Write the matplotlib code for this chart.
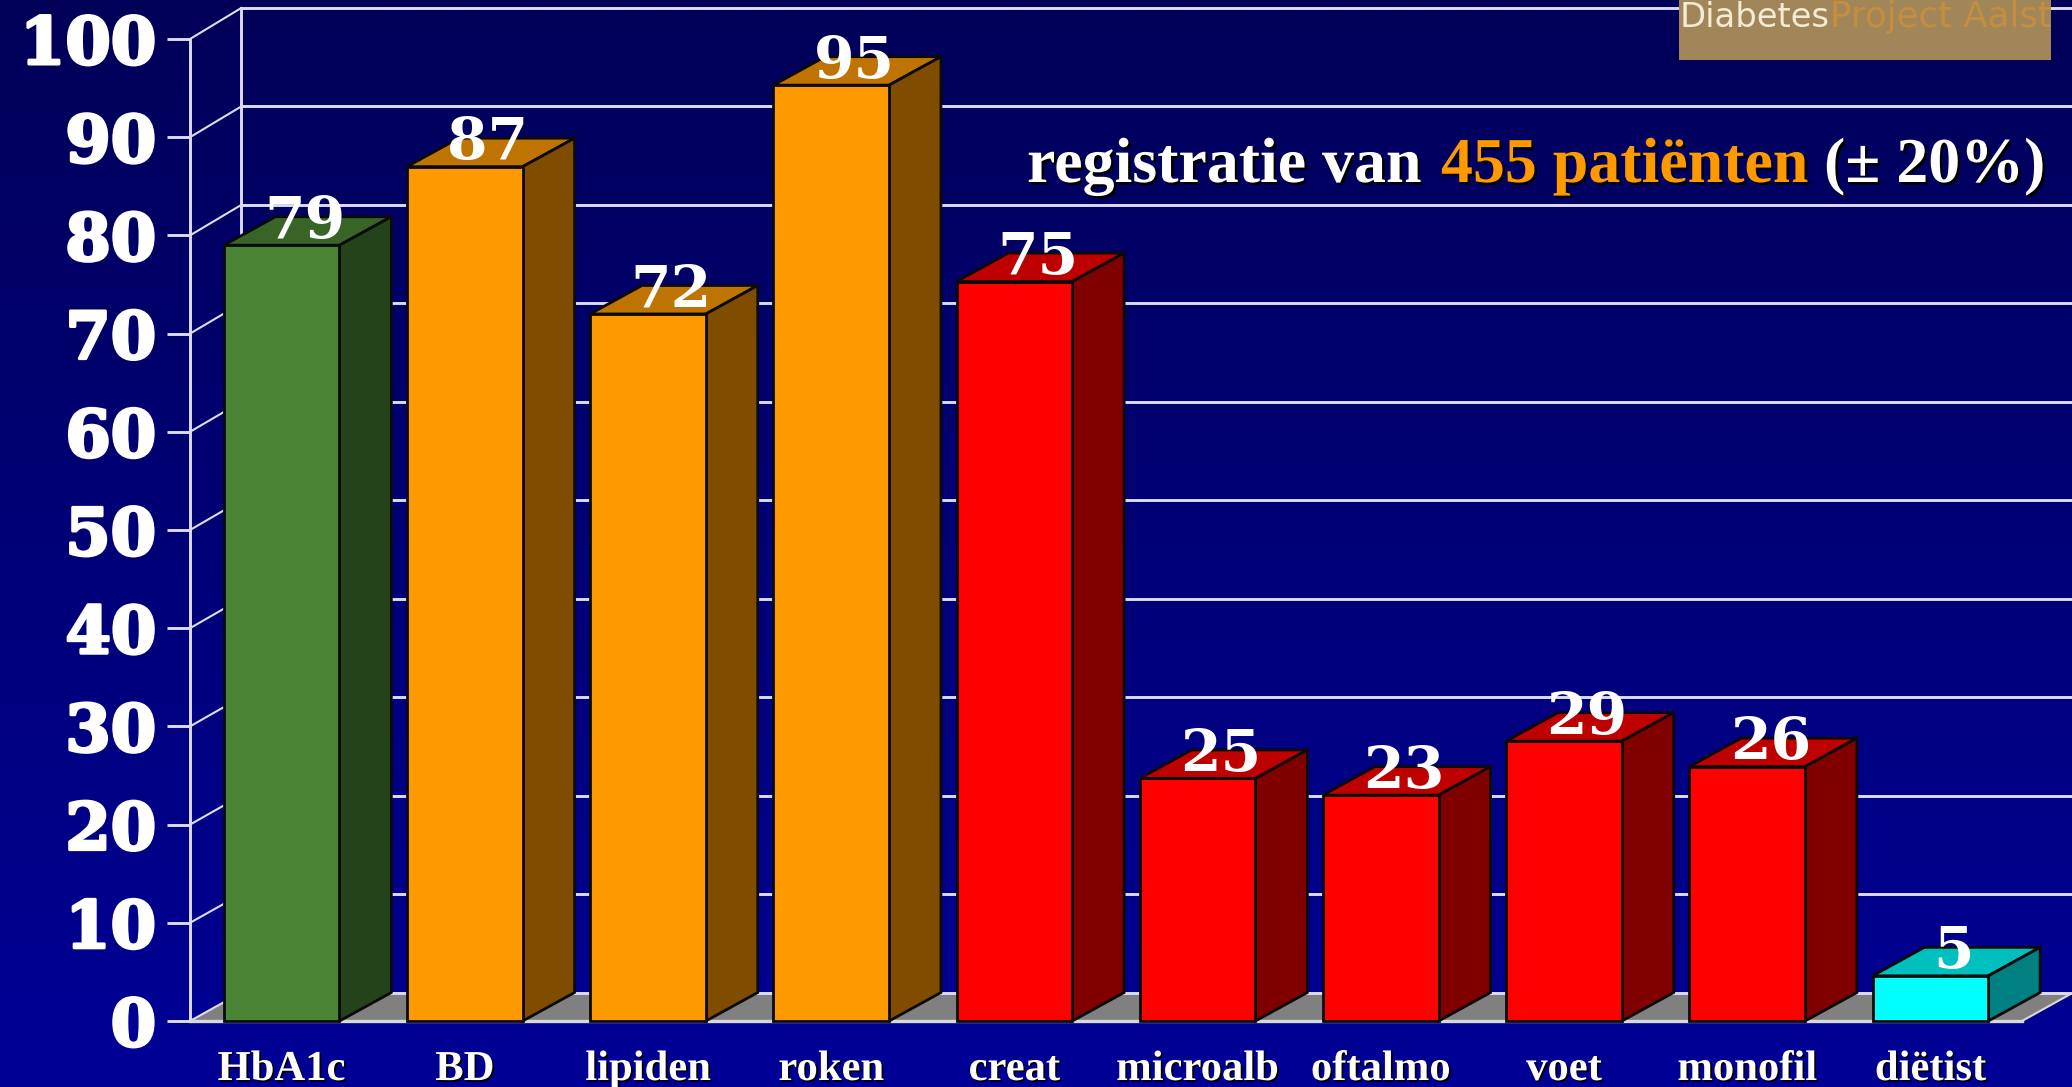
import numpy as np
import matplotlib
matplotlib.use("Agg")
import matplotlib.pyplot as plt
import matplotlib.patheffects as pe
from matplotlib.colors import to_rgb
from matplotlib.patches import Polygon

WIDTH = 2072
HEIGHT = 1087

categories = ["HbA1c", "BD", "lipiden", "roken", "creat",
              "microalb", "oftalmo", "voet", "monofil", "diëtist"]
value_labels = [79, 87, 72, 95, 75, 25, 23, 29, 26, 5]
# hauteurs (un peu differentes des etiquettes)
bar_heights = [79, 87, 72, 95.3, 75.3, 24.7, 23, 28.5, 25.9, 4.6]
bar_colors = ["#4A8535", "#FF9900", "#FF9900", "#FF9900", "#FF0000",
              "#FF0000", "#FF0000", "#FF0000", "#FF0000", "#00FFFF"]
y_ticks = [0, 10, 20, 30, 40, 50, 60, 70, 80, 90, 100]

BAR_WIDTH = 0.632
DEPTH_X = 0.283
DEPTH_Y = 2.9
WALL_X = 0.28
LINE_COLOR = "#DCDCF0"
EDGE_COLOR = "#0A0A0A"
SERIF = "Liberation Serif"


def shade(color, factor):
    return tuple(c * factor for c in to_rgb(color))


def wall_y(tick):
    # le mur du fond n'est pas tout a fait parallele a l'axe
    return tick * 1.0026 + 2.9


def px_text(fig, x, y, text, **kwargs):
    # position en pixels de l'image, origine en haut a gauche
    return fig.text(x / WIDTH, 1 - y / HEIGHT, text, **kwargs)


def draw_background(fig):
    bg = fig.add_axes([0, 0, 1, 1], zorder=-1)
    gradient = np.zeros((256, 1, 3))
    gradient[:, 0, 2] = np.linspace(88, 150, 256) / 255
    bg.imshow(gradient, aspect="auto", interpolation="bilinear")
    bg.axis("off")


def draw_walls(ax):
    xmin, xmax = -0.5, 9.5
    floor = [(xmin, 0), (xmax, 0), (xmax + WALL_X, wall_y(0)), (xmin + WALL_X, wall_y(0))]
    ax.add_patch(Polygon(floor, closed=True, facecolor="#808080", edgecolor="none",
                         zorder=1, clip_on=False))
    for tick in y_ticks:
        # ligne de grille sur le mur du fond + diagonale vers l'axe
        ax.plot([xmin + WALL_X, xmax + WALL_X], [wall_y(tick), wall_y(tick)],
                color=LINE_COLOR, lw=2.1, zorder=1.5, clip_on=False)
        ax.plot([xmin, xmin + WALL_X], [tick, wall_y(tick)],
                color=LINE_COLOR, lw=1.5, zorder=1.5, clip_on=False)
    ax.plot([xmin + WALL_X, xmin + WALL_X], [wall_y(0), wall_y(100)],
            color=LINE_COLOR, lw=2.1, zorder=1.5, clip_on=False)
    ax.plot([xmin, xmax], [0, 0], color="#D8D8D8", lw=2.4, zorder=1.8, clip_on=False)
    ax.plot([xmax, xmax + WALL_X], [0, wall_y(0)], color="#D8D8D8", lw=1.5, zorder=1.8,
            clip_on=False)


def draw_bars(ax, positions):
    half = BAR_WIDTH / 2
    ax.bar(positions, bar_heights, width=BAR_WIDTH, color=bar_colors,
           edgecolor=EDGE_COLOR, linewidth=2, zorder=3, clip_on=False)
    for x, height, label, color in zip(positions, bar_heights, value_labels, bar_colors):
        left, right = x - half, x + half
        top_face = [(left, height), (right, height),
                    (right + DEPTH_X, height + DEPTH_Y), (left + DEPTH_X, height + DEPTH_Y)]
        side_face = [(right, 0), (right + DEPTH_X, DEPTH_Y),
                     (right + DEPTH_X, height + DEPTH_Y), (right, height)]
        ax.add_patch(Polygon(top_face, closed=True, facecolor=shade(color, 0.75),
                             edgecolor=EDGE_COLOR, lw=2, zorder=2.5, clip_on=False))
        ax.add_patch(Polygon(side_face, closed=True, facecolor=shade(color, 0.5),
                             edgecolor=EDGE_COLOR, lw=2, zorder=2.5, clip_on=False))
        ax.text(x + DEPTH_X / 2 - 0.015, height + 0.75, str(label), family="DejaVu Serif",
                weight="bold", fontsize=42, color="white", ha="center", va="baseline",
                zorder=5, clip_on=False)


def draw_annotations(fig):
    shadow = [pe.withSimplePatchShadow(offset=(1.8, -1.8), shadow_rgbFace="black", alpha=1)]
    title_parts = [(1027, "registratie van", "white"),
                   (1441, "455 patiënten", "#FF9900"),
                   (1824, "(± 20%)", "white")]
    for x, text, color in title_parts:
        px_text(fig, x, 182, text, family=SERIF, weight="bold", fontsize=46, color=color,
                ha="left", va="baseline", path_effects=shadow)

    fig.patches.append(plt.Rectangle((1679 / WIDTH, 1 - 60 / HEIGHT), 372 / WIDTH, 60 / HEIGHT,
                                     transform=fig.transFigure, facecolor="#A08658",
                                     edgecolor="none", zorder=4))
    px_text(fig, 1680, 27, "Diabetes", family="DejaVu Sans", fontsize=24.4,
            color="#F5EBD2", ha="left", va="baseline", zorder=5)
    px_text(fig, 1830, 27, "Project Aalst", family="DejaVu Sans", fontsize=25.6,
            color="#C48E3E", ha="left", va="baseline", zorder=5)


def main():
    fig = plt.figure(figsize=(WIDTH / 100, HEIGHT / 100), dpi=100)
    draw_background(fig)

    ax = fig.add_axes([190 / WIDTH, (HEIGHT - 1021) / HEIGHT, 1832 / WIDTH, 982 / HEIGHT])
    ax.patch.set_alpha(0)
    positions = np.arange(len(categories))
    ax.set_xlim(-0.5, 9.5)
    ax.set_ylim(0, 100)

    for side in ["top", "right", "bottom"]:
        ax.spines[side].set_visible(False)
    ax.spines["left"].set_color(LINE_COLOR)
    ax.spines["left"].set_linewidth(2.1)
    ax.spines["left"].set_zorder(2)

    draw_walls(ax)
    draw_bars(ax, positions)

    ax.set_yticks(y_ticks)
    ax.set_yticklabels([str(t) for t in y_ticks], family="DejaVu Serif", weight="bold",
                       fontsize=47, color="white",
                       path_effects=[pe.withStroke(linewidth=2.2, foreground="white")])
    ax.tick_params(axis="y", length=16.5, width=2.1, color=LINE_COLOR, pad=8)

    ax.set_xticks(positions)
    ax.set_xticklabels(categories, family=SERIF, weight="bold", fontsize=30.7, color="white",
                       va="baseline",
                       path_effects=[pe.withSimplePatchShadow(offset=(1.2, -1.2),
                                                              shadow_rgbFace="black", alpha=1)])
    ax.tick_params(axis="x", length=0, pad=42.5)

    draw_annotations(fig)
    fig.savefig("out.png", dpi=100)


if __name__ == "__main__":
    main()
